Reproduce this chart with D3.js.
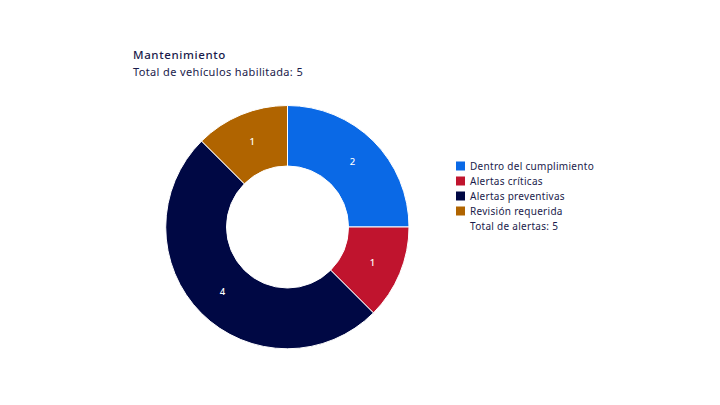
<!DOCTYPE html>
<html><head><meta charset="utf-8">
<script src="https://cdn.jsdelivr.net/npm/d3@7"></script>
<style>body{margin:0;background:#fff}svg{display:block}text{font-family:"Noto Sans",sans-serif}</style>
</head><body>
<svg id="c" width="720" height="405"></svg>
<script>
const categories = ["Dentro del cumplimiento","Alertas críticas","Alertas preventivas","Revisión requerida"];
const values = [2,1,4,1];
const colors = ["#0a69e6","#c0142e","#000844","#b06400"];
const title = "Mantenimiento";
const subtitle = "Total de vehículos habilitada: 5";
const legendExtra = "Total de alertas: 5";

const svg = d3.select("#c");
const cx = 287.5, cy = 227, R = 121.5, r = 61;
const pie = d3.pie().sort(null).value(d=>d)(values);
const arc = d3.arc().innerRadius(r).outerRadius(R);
const labelArc = d3.arc().innerRadius(92).outerRadius(92);
const g = svg.append("g").attr("transform",`translate(${cx},${cy})`);
g.selectAll("path").data(pie).join("path")
  .attr("d",arc).attr("fill",(d,i)=>colors[i])
  .attr("stroke","#fff").attr("stroke-width",1);
g.selectAll("text").data(pie).join("text")
  .attr("transform",d=>`translate(${labelArc.centroid(d)})`)
  .attr("text-anchor","middle").attr("dy","0.35em")
  .attr("fill","#fff").attr("font-size",9.5).attr("font-weight",500).text(d=>d.data);

function fitSpacing(sel, w){
  const n = sel.text().length;
  const cur = sel.node().getComputedTextLength();
  sel.attr("letter-spacing", ((w-cur)/n).toFixed(2));
}
const t1 = svg.append("text").attr("x",133).attr("y",59).attr("font-size",11.5).attr("font-weight",500)
  .attr("fill","#1a1b4b").text(title);
fitSpacing(t1, 93);
const t2 = svg.append("text").attr("x",133).attr("y",76).attr("font-size",11)
  .attr("fill","#1a1b4b").text(subtitle);
fitSpacing(t2, 170);

const lg = svg.append("g").attr("transform","translate(456,166)");
const rows = categories.concat([legendExtra]);
let ls = 0;
rows.forEach((t,i)=>{
  if(i<colors.length) lg.append("rect").attr("x",0).attr("y",i*15-4.5).attr("width",9).attr("height",9).attr("fill",colors[i]);
  const tx = lg.append("text").attr("x",14).attr("y",i*15).attr("dy","0.35em").attr("font-size",10)
    .attr("fill","#1a1b4b").text(t);
  if(i===0){ fitSpacing(tx,124); ls = tx.attr("letter-spacing"); }
  else tx.attr("letter-spacing", ls);
});
</script>
</body></html>
